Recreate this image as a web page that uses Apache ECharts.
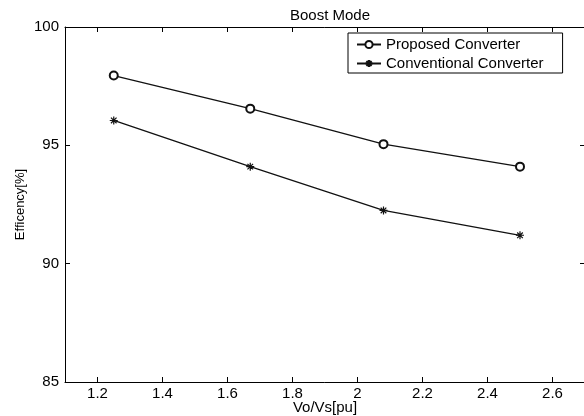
<!DOCTYPE html>
<html>
<head>
<meta charset="utf-8">
<script src="https://cdn.jsdelivr.net/npm/echarts@6/dist/echarts.min.js"></script>
<style>html,body{margin:0;padding:0;background:#fff}#c{width:584px;height:416px}</style>
</head>
<body>
<div id="c"></div>
<script>
var xValues = [1.25, 1.67, 2.08, 2.5];
var proposed = [97.95, 96.55, 95.05, 94.1];
var conventional = [96.05, 94.1, 92.25, 91.2];
var xTicks = [1.2, 1.4, 1.6, 1.8, 2.0, 2.2, 2.4, 2.6];
var seriesNames = ['Proposed Converter', 'Conventional Converter'];

function pairs(xs, ys) { return xs.map(function (x, i) { return [x, ys[i]]; }); }

var FONT = 'Liberation Sans, Arial, sans-serif';
var FS = 15;
var starPath = 'path://M0,-10L0,10M-10,0L10,0M-7,-7L7,7M-7,7L7,-7';
var axisCommon = {
  type: 'value',
  axisLine: { show: true, lineStyle: { color: '#000', width: 1 } },
  splitLine: { show: false },
  axisTick: { show: true, inside: true, length: 5, lineStyle: { color: '#000' } }
};

var chart = echarts.init(document.getElementById('c'), null, { renderer: 'canvas' });
chart.setOption({
  animation: false,
  backgroundColor: '#fff',
  title: {
    text: 'Boost Mode', left: 325, textAlign: 'center', top: 3,
    textStyle: { fontFamily: FONT, fontSize: FS, fontWeight: 'normal', color: '#000' }
  },
  legend: {
    left: 348, top: 33, orient: 'vertical',
    data: seriesNames,
    borderColor: '#000', borderWidth: 1, borderRadius: 0,
    padding: [4, 19, 2, 8], itemGap: 4, itemWidth: 24, itemHeight: 9,
    textStyle: { fontFamily: FONT, fontSize: FS, lineHeight: 14, color: '#000' }
  },
  grid: { left: 65, right: -1, top: 27, bottom: 34, containLabel: false, outerBoundsMode: 'none' },
  xAxis: [
    Object.assign({}, axisCommon, {
      position: 'bottom', min: 1.1, max: 2.7,
      name: 'Vo/Vs[pu]', nameLocation: 'middle', nameGap: 18, nameMoveOverlap: false,
      nameTextStyle: { fontFamily: FONT, fontSize: FS, color: '#000' },
      axisTick: { show: true, inside: true, length: 5, customValues: xTicks, lineStyle: { color: '#000' } },
      axisLabel: { customValues: xTicks, fontFamily: FONT, fontSize: FS, color: '#000', margin: 4 }
    }),
    Object.assign({}, axisCommon, {
      position: 'top', min: 1.1, max: 2.7,
      axisTick: { show: true, inside: true, length: 5, customValues: xTicks, lineStyle: { color: '#000' } },
      axisLabel: { show: false }
    })
  ],
  yAxis: [
    Object.assign({}, axisCommon, {
      position: 'left', min: 85, max: 100, interval: 5,
      name: 'Efficency[%]', nameLocation: 'middle', nameGap: 38, nameMoveOverlap: false,
      nameTextStyle: { fontFamily: FONT, fontSize: 13, color: '#000' },
      axisLabel: { fontFamily: FONT, fontSize: FS, color: '#000', margin: 6 }
    }),
    Object.assign({}, axisCommon, {
      position: 'right', min: 85, max: 100, interval: 5,
      axisLabel: { show: false }
    })
  ],
  series: [
    {
      name: seriesNames[0], type: 'line', data: pairs(xValues, proposed),
      symbol: 'emptyCircle', symbolSize: 8,
      lineStyle: { color: '#111', width: 1.3 },
      itemStyle: { color: '#111', borderColor: '#111', borderWidth: 1 }
    },
    {
      name: seriesNames[1], type: 'line', data: pairs(xValues, conventional),
      symbol: starPath, symbolSize: 8,
      lineStyle: { color: '#111', width: 1.3 },
      itemStyle: { color: '#111', borderColor: '#111', borderWidth: 1.2 }
    }
  ]
});
</script>
</body>
</html>
